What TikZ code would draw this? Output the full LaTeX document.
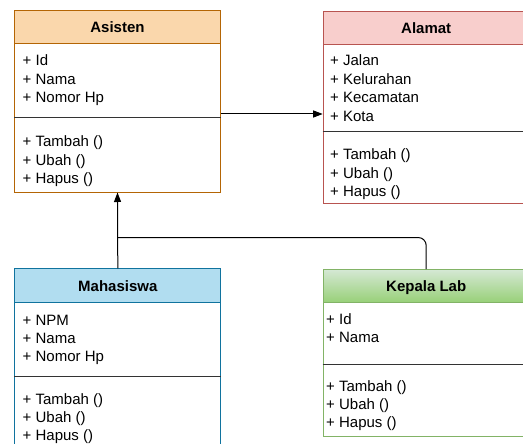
\documentclass[tikz,border=0pt]{standalone}
\usepackage{fontspec}
\setmainfont{Liberation Sans}
\usetikzlibrary{arrows.meta,calc}
\definecolor{asFill}{HTML}{FAD7AC}
\definecolor{asLine}{HTML}{B46504}
\definecolor{alFill}{HTML}{F8CECC}
\definecolor{alLine}{HTML}{B85450}
\definecolor{mhFill}{HTML}{B1DDF0}
\definecolor{mhLine}{HTML}{10739E}
\definecolor{kpTop}{HTML}{D5E8D4}
\definecolor{kpBot}{HTML}{97D077}
\definecolor{kpLine}{HTML}{82B366}
\definecolor{divCol}{HTML}{333333}
\tikzset{
  clsbody/.style={draw=#1, line width=1pt, fill=white, rectangle, inner sep=0pt,
    anchor=north west, minimum width=206pt},
  clshead/.style={draw=#1, line width=1pt, rectangle, inner sep=0pt,
    anchor=north west, minimum width=206pt, minimum height=33pt},
  clstitle/.style={inner sep=0pt, text height=11pt, text depth=0pt,
    font=\bfseries\fontsize{15}{18}\selectfont},
  member/.style={anchor=base west, inner sep=0pt, font=\fontsize{15}{18}\selectfont},
  divider/.style={draw=divCol, line width=1pt},
  conn/.style={draw=black, line width=1pt},
  tip/.style={-{Triangle[length=9.5pt,width=7pt]}}
}
\begin{document}
\begin{tikzpicture}[x=1pt,y=-1pt]
\useasboundingbox (0,0) rectangle (523,444);
\clip (0,0) rectangle (523,444);

% ---------- Asisten ----------
\node[clsbody=asLine, minimum height=181pt] (asisten) at (14,10.5) {};
\node[clshead=asLine, fill=asFill] (asistenh) at (asisten.north west) {};
\node[clstitle] (asistent) at (asistenh.center) {Asisten};
\draw[divider] ($(asisten.north west)+(0,107.5)$) -- ($(asisten.north east)+(0,107.5)$);
\foreach \t [count=\i] in {{+ Id},{+ Nama},{+ Nomor Hp}}
  \node[member] (asa\i) at (22.5,{66+18.4*(\i-1)}) {\t};
\foreach \t [count=\i] in {{+ Tambah ()},{+ Ubah ()},{+ Hapus ()}}
  \node[member] (asm\i) at (22.5,{146.7+18.4*(\i-1)}) {\t};

% ---------- Alamat ----------
\node[clsbody=alLine, minimum height=192.6pt] (alamat) at (322.7,10.7) {};
\node[clshead=alLine, fill=alFill] (alamath) at (alamat.north west) {};
\node[clstitle] (alamatt) at (alamath.center) {Alamat};
\draw[divider] ($(alamat.north west)+(0,121)$) -- ($(alamat.north east)+(0,121)$);
\foreach \t [count=\i] in {{+ Jalan},{+ Kelurahan},{+ Kecamatan},{+ Kota}}
  \node[member] (ala\i) at (330,{66+18.4*(\i-1)}) {\t};
\foreach \t [count=\i] in {{+ Tambah ()},{+ Ubah ()},{+ Hapus ()}}
  \node[member] (alm\i) at (330,{160+18.4*(\i-1)}) {\t};

% ---------- Mahasiswa ----------
\node[clsbody=mhLine, minimum height=200pt] (mhs) at (14.3,268.3) {};
\node[clshead=mhLine, fill=mhFill, minimum height=33.7pt] (mhsh) at (mhs.north west) {};
\node[clstitle] (mhst) at (mhsh.center) {Mahasiswa};
\draw[divider] ($(mhs.north west)+(0,108.4)$) -- ($(mhs.north east)+(0,108.4)$);
\foreach \t [count=\i] in {{+ NPM},{+ Nama},{+ Nomor Hp}}
  \node[member] (mha\i) at (22.5,{325+18.2*(\i-1)}) {\t};
\foreach \t [count=\i] in {{+ Tambah ()},{+ Ubah ()},{+ Hapus ()}}
  \node[member] (mhm\i) at (22.5,{404+18.2*(\i-1)}) {\t};

% ---------- Kepala Lab ----------
\node[clsbody=kpLine, minimum height=167pt] (kepala) at (322.7,269) {};
\node[clshead=kpLine, top color=kpTop, bottom color=kpBot, minimum height=33.3pt] (kepalah) at (kepala.north west) {};
\node[clstitle] (kepalat) at (kepalah.center) {Kepala Lab};
\draw[divider] ($(kepala.north west)+(0,95)$) -- ($(kepala.north east)+(0,95)$);
\foreach \t [count=\i] in {{+ Id},{+ Nama}}
  \node[member] (kpa\i) at (326,{324.5+18.4*(\i-1)}) {\t};
\foreach \t [count=\i] in {{+ Tambah ()},{+ Ubah ()},{+ Hapus ()}}
  \node[member] (kpm\i) at (326,{391+18.3*(\i-1)}) {\t};

% ---------- connectors ----------
\coordinate (yA) at (0,114);
\coordinate (yJ) at (0,237.5);
\coordinate (junc) at (mhs.north |- yJ);
\draw[conn, tip] (asisten.east |- yA) -- (alamat.west |- yA);
\draw[conn, rounded corners=8pt] (kepala.north) |- (junc);
\draw[conn, tip] (mhs.north) -- (asisten.south);
\end{tikzpicture}
\end{document}
